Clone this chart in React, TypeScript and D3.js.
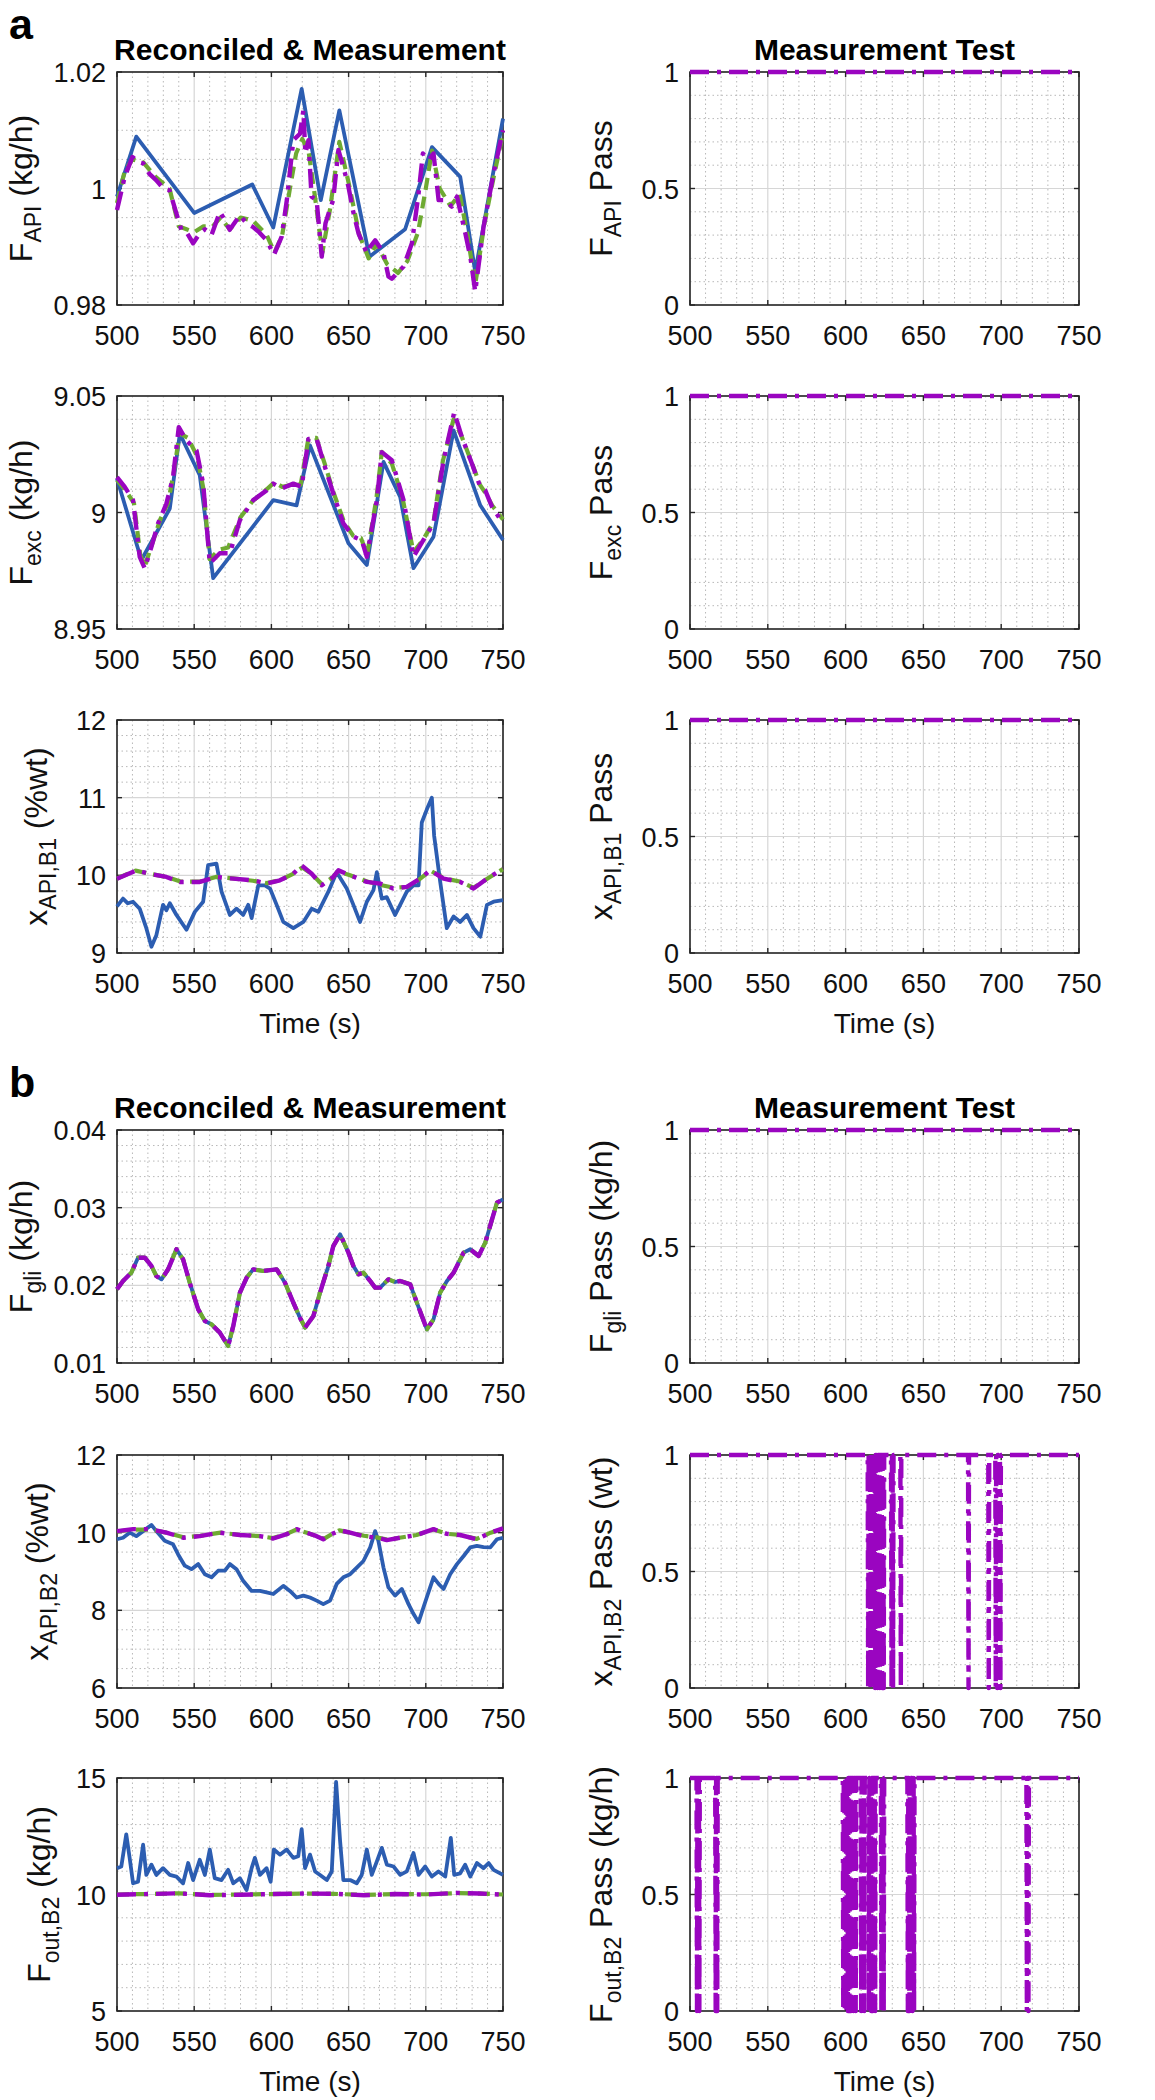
import { useEffect, useRef } from 'react'
import * as d3 from 'd3'

type Pt = [number, number]

const timeTicks = [500, 550, 600, 650, 700, 750]
const passTicks = [0, 0.5, 1]

// ---- panel a, row 1: F_API ----
const a1Meas: Pt[] = [[500, 0.9986], [512.5, 1.0089], [550, 0.9958], [587.6, 1.0007], [601.2, 0.9933], [619.6, 1.0171], [632, 0.998], [644, 1.0134], [663.5, 0.9883], [686.6, 0.993], [704, 1.0071], [722.3, 1.002], [732, 0.9857], [750, 1.012]]
const a1Est: Pt[] = [[500, 0.9975], [505, 1.003], [510, 1.005], [517, 1.0045], [525, 1.002], [534, 1.0], [540, 0.9935], [545, 0.993], [550, 0.9925], [556, 0.9935], [562, 0.9935], [567, 0.995], [573, 0.993], [580, 0.995], [588, 0.9945], [597, 0.992], [602, 0.989], [607, 0.992], [612, 1.0], [616, 1.006], [620, 1.0085], [624, 1.0065], [628, 0.999], [633, 0.989], [638, 0.9965], [644, 1.008], [650, 1.001], [657, 0.992], [663, 0.988], [668, 0.9905], [675, 0.987], [682, 0.9855], [688, 0.9875], [695, 0.9925], [700, 1.0], [704, 1.0065], [709, 1.0], [716, 0.997], [722, 0.999], [727, 0.992], [732, 0.9835], [738, 0.994], [744, 1.002], [750, 1.0095]]
const a1Recon: Pt[] = [[500, 0.9963], [505, 1.002], [510, 1.0054], [514, 1.0045], [517, 1.0043], [521, 1.0025], [525.5, 1.0014], [530, 1.0], [534, 0.9997], [538.5, 0.9957], [541.7, 0.9929], [545, 0.9925], [549.3, 0.9906], [553.6, 0.9923], [557, 0.993], [561.2, 0.992], [566.6, 0.996], [570, 0.9945], [573, 0.9929], [579.6, 0.9954], [584, 0.994], [588, 0.9934], [592, 0.9925], [597, 0.9911], [601.6, 0.9886], [606.6, 0.9917], [610, 0.998], [614.2, 1.0083], [618.5, 1.0094], [620.7, 1.0134], [622, 1.006], [624, 1.0083], [626, 0.9986], [629.3, 0.998], [632.6, 0.9883], [635, 0.994], [637, 0.9957], [640, 0.998], [643.4, 1.0066], [646.6, 1.0037], [649.9, 1.0003], [653, 0.996], [656.4, 0.9923], [661.8, 0.9889], [664, 0.99], [667.2, 0.9911], [670, 0.99], [672.6, 0.9889], [675.8, 0.9849], [678, 0.9845], [681.2, 0.9854], [685.6, 0.9866], [691, 0.9906], [695.3, 0.9991], [698.1, 1.006], [701.8, 1.0049], [705, 1.006], [708.3, 0.998], [712.6, 0.998], [716.9, 0.9969], [720.2, 0.9986], [725.6, 0.9923], [729, 0.988], [732, 0.9823], [737.4, 0.9934], [743.9, 1.0026], [750, 1.01]]

// ---- panel a, row 2: F_exc ----
const a2Meas: Pt[] = [[500, 9.0145], [515.8, 8.9796], [534.2, 9.0017], [540.7, 9.0338], [553.6, 9.016], [562.3, 8.9718], [601.2, 9.0053], [616.3, 9.0031], [625, 9.0288], [649.9, 8.9868], [661.8, 8.9775], [672.6, 9.0217], [683.4, 9.0067], [692, 8.9761], [705, 8.9896], [718, 9.0352], [735.3, 9.0031], [750, 8.9882]]
const a2Est: Pt[] = [[500, 9.014], [506, 9.009], [511, 9.004], [515, 8.982], [518, 8.977], [523, 8.987], [528, 8.997], [533, 9.004], [537, 9.018], [540.5, 9.034], [546, 9.032], [552, 9.024], [556, 9.01], [560, 8.98], [566, 8.984], [572, 8.985], [580, 8.998], [588, 9.005], [597, 9.01], [602, 9.013], [607, 9.011], [614, 9.012], [619, 9.012], [624, 9.032], [629, 9.032], [635, 9.02], [640, 9.009], [647, 8.996], [653, 8.99], [658, 8.989], [662, 8.982], [668, 9.006], [671.5, 9.026], [678, 9.021], [685, 9.006], [692, 8.983], [698, 8.988], [705, 8.996], [711, 9.022], [718, 9.04], [723, 9.033], [730, 9.021], [735, 9.012], [739, 9.008], [743, 9.003], [750, 8.997]]
const a2Recon: Pt[] = [[500, 9.0152], [505, 9.011], [510.4, 9.0053], [514.7, 8.981], [518, 8.976], [522.3, 8.9853], [526.6, 8.9953], [532, 9.0038], [536.3, 9.0152], [540, 9.0366], [545, 9.0309], [551.5, 9.0266], [555.8, 9.0124], [560.1, 8.9782], [566.6, 8.9825], [573.1, 8.9825], [579.6, 8.9967], [588.2, 9.0053], [596.9, 9.0095], [601.2, 9.0124], [606.6, 9.0103], [614.2, 9.0124], [619.6, 9.011], [624, 9.0316], [629.3, 9.0316], [634.7, 9.0195], [640.1, 9.0081], [646.6, 8.9953], [653.1, 8.9896], [658.5, 8.9882], [661.8, 8.981], [668.3, 9.0053], [671.5, 9.0259], [678, 9.0224], [685.6, 9.0053], [692, 8.981], [698.5, 8.9882], [705, 8.9953], [711.5, 9.0224], [718.4, 9.043], [723.4, 9.0323], [729.9, 9.0209], [735.3, 9.011], [738.5, 9.0095], [742.9, 9.0024], [750, 8.9953]]

// ---- panel a, row 3: x_API,B1 ----
const a3Meas: Pt[] = [[500, 9.6], [503.9, 9.7], [507, 9.64], [510.4, 9.66], [514.7, 9.57], [519, 9.32], [522.3, 9.08], [525.5, 9.23], [529.8, 9.62], [532, 9.55], [534.2, 9.64], [538.5, 9.49], [545, 9.3], [550.4, 9.53], [555.8, 9.66], [559, 10.13], [564.4, 10.15], [567.7, 9.79], [573.1, 9.49], [577.4, 9.57], [581.7, 9.49], [585, 9.62], [587.2, 9.45], [591.5, 9.87], [595.8, 9.87], [599.1, 9.83], [603.4, 9.62], [607.7, 9.4], [614.2, 9.32], [620.7, 9.4], [626.1, 9.57], [630.4, 9.53], [636.9, 9.79], [642.3, 10.04], [648.8, 9.83], [653.1, 9.62], [657.4, 9.4], [661.8, 9.66], [666.1, 9.81], [668.3, 10.04], [671.5, 9.7], [674.7, 9.72], [680.1, 9.49], [683.4, 9.62], [687.7, 9.79], [692, 9.87], [695.3, 9.87], [697.4, 10.68], [700.7, 10.85], [703.9, 11.0], [705.4, 10.51], [709.3, 9.92], [713.6, 9.32], [718, 9.47], [722.3, 9.4], [726.6, 9.49], [730.9, 9.32], [735.3, 9.21], [739.6, 9.62], [743.9, 9.66], [750, 9.68]]
const a3Est: Pt[] = [[500, 9.96], [512, 10.06], [521, 10.02], [532, 9.98], [541, 9.92], [554, 9.92], [564, 9.98], [575, 9.96], [588, 9.93], [597, 9.9], [606, 9.94], [614, 10.02], [620, 10.1], [626, 10.02], [633, 9.88], [640, 9.98], [643, 10.05], [651, 10.0], [662, 9.92], [670, 9.88], [679, 9.84], [688, 9.85], [696, 9.95], [703, 10.06], [712, 9.96], [722, 9.92], [731, 9.84], [740, 9.96], [750, 10.08]]
const a3Recon: Pt[] = [[500, 9.957], [512.5, 10.064], [521.2, 10.02], [532, 9.979], [540.7, 9.915], [553.6, 9.915], [564.4, 9.979], [575.3, 9.957], [588.2, 9.936], [596.9, 9.894], [605.5, 9.936], [614.2, 10.02], [619.6, 10.128], [626.1, 10.02], [632.6, 9.872], [640.1, 9.979], [643.4, 10.064], [651, 10.0], [661.8, 9.915], [670.4, 9.894], [679, 9.83], [687.7, 9.851], [696.3, 9.957], [702.8, 10.064], [711.5, 9.957], [722.3, 9.915], [730.9, 9.83], [739.6, 9.957], [750, 10.085]]

// ---- panel b, row 1: F_gli (all three series overlap) ----
const b1Meas: Pt[] = [[500, 0.0195], [503.9, 0.02056], [509.3, 0.02163], [513.6, 0.02356], [518, 0.02356], [522.3, 0.02249], [525.5, 0.0212], [528.8, 0.02077], [533.1, 0.02206], [538.5, 0.02464], [542.8, 0.02335], [547.1, 0.02034], [552.6, 0.01691], [556.9, 0.01541], [561.2, 0.01498], [566.6, 0.01391], [572, 0.01219], [575.3, 0.01476], [579.6, 0.01906], [584, 0.02099], [588.2, 0.02206], [594.7, 0.02185], [603.4, 0.02206], [608.8, 0.02034], [614.2, 0.01777], [618.5, 0.01584], [621.8, 0.01455], [627.2, 0.01605], [631.5, 0.01906], [636.9, 0.02249], [640.1, 0.02506], [644.5, 0.02657], [649.9, 0.02421], [653.1, 0.02249], [656.4, 0.02142], [659.6, 0.02163], [664, 0.02056], [667.2, 0.0197], [670.4, 0.0197], [675.8, 0.02077], [680.1, 0.02043], [683.4, 0.02056], [689.9, 0.02013], [694.2, 0.01777], [700.7, 0.01433], [705, 0.01562], [709.3, 0.01906], [713.7, 0.02056], [718, 0.02163], [724.5, 0.02421], [728.8, 0.02464], [734.2, 0.02378], [738.5, 0.02549], [742.9, 0.0285], [746.1, 0.03064], [750, 0.03107]]

// ---- panel b, row 2: x_API,B2 ----
const b2Meas: Pt[] = [[500, 9.83], [503.9, 9.87], [508.2, 10.0], [512.5, 9.91], [516.9, 10.04], [522.3, 10.2], [525.5, 10.04], [530.9, 9.79], [536.3, 9.7], [539.6, 9.44], [543.9, 9.15], [548.2, 9.06], [552.6, 9.19], [556.9, 8.93], [561.2, 8.85], [565.5, 9.02], [569.9, 9.02], [573.1, 9.19], [577.4, 9.06], [581.7, 8.76], [587.2, 8.5], [592.6, 8.5], [596.9, 8.46], [601.2, 8.42], [607.7, 8.63], [612, 8.5], [616.3, 8.33], [620.7, 8.38], [625, 8.33], [629.3, 8.25], [633.6, 8.16], [638, 8.25], [642.3, 8.68], [646.6, 8.85], [651, 8.93], [655.3, 9.1], [659.6, 9.27], [664, 9.62], [667.2, 10.04], [669.3, 9.79], [672.6, 9.1], [675.8, 8.59], [680.1, 8.38], [684.5, 8.55], [688.8, 8.16], [692, 7.91], [695.3, 7.69], [698.5, 8.08], [702.8, 8.59], [705, 8.85], [708.3, 8.68], [711.5, 8.55], [715.8, 8.93], [720.2, 9.19], [724.5, 9.4], [728.8, 9.62], [733.1, 9.66], [737.4, 9.63], [741.8, 9.62], [746.1, 9.83], [750, 9.87]]
const b2Est: Pt[] = [[500, 10.03], [510, 10.08], [521, 10.08], [532, 10.0], [543, 9.88], [554, 9.92], [567, 10.0], [580, 9.94], [593, 9.91], [601, 9.86], [610, 9.97], [616, 10.08], [623, 10.0], [629, 9.91], [634, 9.84], [639, 9.96], [644, 10.06], [651, 10.0], [660, 9.92], [668, 9.88], [675, 9.82], [683, 9.87], [694, 9.94], [705, 10.08], [714, 9.97], [722, 9.94], [733, 9.84], [742, 10.0], [750, 10.1]]
const b2Recon: Pt[] = [[500, 10.04], [510.4, 10.09], [521.2, 10.09], [532, 10.0], [542.8, 9.87], [553.6, 9.91], [566.6, 10.0], [579.6, 9.94], [592.6, 9.91], [601.2, 9.85], [609.9, 9.96], [616.3, 10.09], [622.8, 10.0], [629.3, 9.91], [633.6, 9.83], [639, 9.96], [644.5, 10.06], [651, 10.0], [659.6, 9.91], [668.3, 9.87], [674.7, 9.81], [683.4, 9.87], [694.2, 9.94], [705, 10.09], [713.6, 9.97], [722.3, 9.94], [733.1, 9.83], [741.8, 10.0], [750, 10.11]]

// ---- panel b, row 3: F_out,B2 ----
const b3Meas: Pt[] = [[500, 11.13], [502.8, 11.2], [506, 12.58], [508.2, 11.57], [510.4, 10.48], [513.6, 10.55], [516.9, 12.14], [519, 10.84], [522.3, 11.28], [525.5, 10.84], [529.8, 11.13], [534.2, 10.84], [538.5, 10.77], [542.8, 10.48], [546.1, 11.35], [549.3, 10.62], [553.6, 11.49], [556.9, 10.84], [560.1, 11.93], [563.3, 10.7], [567.7, 10.62], [572, 11.06], [575.3, 10.48], [579.6, 10.7], [583.9, 10.19], [587.2, 11.13], [589.3, 11.57], [592.6, 10.84], [596.9, 11.13], [599.5, 10.55], [601.6, 11.93], [605.5, 11.71], [609.9, 11.93], [614.2, 11.57], [617.4, 11.64], [619.6, 12.8], [621.8, 11.13], [625, 11.71], [628.3, 10.99], [631.5, 10.84], [635.9, 10.62], [639.1, 10.99], [641.9, 14.83], [644.5, 12.29], [646.6, 10.62], [651, 10.62], [655.3, 10.48], [658.5, 10.84], [661.8, 11.93], [665, 10.84], [668.3, 11.42], [671.5, 12.0], [674.8, 11.28], [679.1, 11.2], [683.4, 10.84], [687.7, 10.99], [692, 11.78], [695.3, 10.84], [699.6, 11.2], [703.9, 10.77], [708.2, 10.99], [712.6, 10.77], [716.2, 12.43], [718.4, 10.84], [722.3, 10.91], [725.5, 11.28], [728.8, 10.77], [733.1, 11.35], [737.4, 11.13], [740.7, 11.35], [743.9, 11.06], [750, 10.84]]
const b3Est: Pt[] = [[500, 10.0], [520, 10.02], [540, 10.05], [560, 9.98], [580, 10.0], [600, 10.02], [620, 10.04], [640, 10.03], [660, 9.98], [680, 10.02], [700, 10.01], [720, 10.06], [735, 10.04], [750, 10.0]]
const b3Recon: Pt[] = [[500, 9.99], [520, 10.02], [540, 10.05], [560, 9.97], [580, 9.99], [600, 10.02], [620, 10.04], [640, 10.03], [660, 9.97], [680, 10.02], [700, 10.0], [720, 10.07], [735, 10.04], [750, 9.99]]

// ---- measurement test: times where the test failed (value 0), else 1 ----
const b2FailTimes = [614.5, 616, 618, 619, 620.5, 622, 623.5, 624.5, 629.5, 630.5, 635.5, 679, 692, 696.5, 697.5, 699.5]
const b3FailTimes = [504.5, 506, 516.5, 517.5, 598.5, 599.5, 600.5, 601.5, 602.5, 603.5, 605, 606.5, 610, 612, 615, 616.5, 617.5, 619, 623, 624.5, 640, 641, 643, 644, 716.5, 717.5]

const passSeries = (fails: number[]): Pt[] => {
  const pts: Pt[] = [[500, 1]]
  fails.forEach(t => { pts.push([t - 0.3, 1], [t, 0], [t + 0.3, 1]) })
  pts.push([750, 1])
  return pts
}

const FONT = '"Liberation Sans", Arial, Helvetica, sans-serif'
const STYLES = {
  meas: { color: '#2c5db1', width: 3.8, dash: null },
  est: { color: '#6eaa32', width: 4.2, dash: '12,7' },
  recon: { color: '#9a05c0', width: 4.4, dash: '19,8,4,8' },
}

type Kind = keyof typeof STYLES
interface Panel {
  x0: number; x1: number; top: number
  domain: [number, number]; ticks: number[]; minor: number
  series: [Pt[], Kind][]
  label: [string, string, string]; labelX: number
  timeLabel?: boolean
}

export default function App() {
  const svgRef = useRef<SVGSVGElement>(null)
  const width = 1155
  const height = 2100

  useEffect(() => {
    if (!svgRef.current) return
    const svg = d3.select(svgRef.current)
    svg.selectAll('*').remove()
    svg.append('rect').attr('width', width).attr('height', height).attr('fill', '#fff')

    const plotH = 233
    const L = [117, 503]
    const R = [690, 1079]
    const rows = [72, 396, 720, 1130, 1455, 1778]
    const always = passSeries([])

    const panels: Panel[] = [
      { x0: L[0], x1: L[1], top: rows[0], domain: [0.98, 1.02], ticks: [0.98, 1, 1.02], minor: 0.005, series: [[a1Meas, 'meas'], [a1Est, 'est'], [a1Recon, 'recon']], label: ['F', 'API', ' (kg/h)'], labelX: 32 },
      { x0: R[0], x1: R[1], top: rows[0], domain: [0, 1], ticks: passTicks, minor: 0.1, series: [[always, 'recon']], label: ['F', 'API', ' Pass'], labelX: 612 },
      { x0: L[0], x1: L[1], top: rows[1], domain: [8.95, 9.05], ticks: [8.95, 9, 9.05], minor: 0.01, series: [[a2Meas, 'meas'], [a2Est, 'est'], [a2Recon, 'recon']], label: ['F', 'exc', ' (kg/h)'], labelX: 32 },
      { x0: R[0], x1: R[1], top: rows[1], domain: [0, 1], ticks: passTicks, minor: 0.1, series: [[always, 'recon']], label: ['F', 'exc', ' Pass'], labelX: 612 },
      { x0: L[0], x1: L[1], top: rows[2], domain: [9, 12], ticks: [9, 10, 11, 12], minor: 0.2, series: [[a3Meas, 'meas'], [a3Est, 'est'], [a3Recon, 'recon']], label: ['x', 'API,B1', ' (%wt)'], labelX: 47, timeLabel: true },
      { x0: R[0], x1: R[1], top: rows[2], domain: [0, 1], ticks: passTicks, minor: 0.1, series: [[always, 'recon']], label: ['x', 'API,B1', ' Pass'], labelX: 612, timeLabel: true },
      { x0: L[0], x1: L[1], top: rows[3], domain: [0.01, 0.04], ticks: [0.01, 0.02, 0.03, 0.04], minor: 0.002, series: [[b1Meas, 'meas'], [b1Meas, 'est'], [b1Meas, 'recon']], label: ['F', 'gli', ' (kg/h)'], labelX: 32 },
      { x0: R[0], x1: R[1], top: rows[3], domain: [0, 1], ticks: passTicks, minor: 0.1, series: [[always, 'recon']], label: ['F', 'gli', ' Pass (kg/h)'], labelX: 612 },
      { x0: L[0], x1: L[1], top: rows[4], domain: [6, 12], ticks: [6, 8, 10, 12], minor: 0.5, series: [[b2Meas, 'meas'], [b2Est, 'est'], [b2Recon, 'recon']], label: ['x', 'API,B2', ' (%wt)'], labelX: 48 },
      { x0: R[0], x1: R[1], top: rows[4], domain: [0, 1], ticks: passTicks, minor: 0.1, series: [[passSeries(b2FailTimes), 'recon']], label: ['x', 'API,B2', ' Pass (wt)'], labelX: 612 },
      { x0: L[0], x1: L[1], top: rows[5], domain: [5, 15], ticks: [5, 10, 15], minor: 1, series: [[b3Meas, 'meas'], [b3Est, 'est'], [b3Recon, 'recon']], label: ['F', 'out,B2', ' (kg/h)'], labelX: 50, timeLabel: true },
      { x0: R[0], x1: R[1], top: rows[5], domain: [0, 1], ticks: passTicks, minor: 0.1, series: [[passSeries(b3FailTimes), 'recon']], label: ['F', 'out,B2', ' Pass (kg/h)'], labelX: 612, timeLabel: true },
    ]

    panels.forEach(p => {
      const x = d3.scaleLinear().domain([500, 750]).range([p.x0, p.x1])
      const y = d3.scaleLinear().domain(p.domain).range([p.top + plotH, p.top])
      const g = svg.append('g')
      const bottom = p.top + plotH

      // minor grid (dotted)
      const xMinor = d3.range(500, 750.001, 10).filter(v => !timeTicks.includes(Math.round(v)))
      const span = p.domain[1] - p.domain[0]
      const yMinor = d3.range(p.domain[0], p.domain[1] + span * 1e-6, p.minor)
        .filter(v => !p.ticks.some(t => Math.abs(t - v) < span * 1e-4))
      xMinor.forEach(v => {
        g.append('line').attr('x1', x(v)).attr('x2', x(v)).attr('y1', p.top).attr('y2', bottom)
          .attr('stroke', '#b8b8b8').attr('stroke-width', 1).attr('stroke-dasharray', '1.5,3')
      })
      yMinor.forEach(v => {
        g.append('line').attr('x1', p.x0).attr('x2', p.x1).attr('y1', y(v)).attr('y2', y(v))
          .attr('stroke', '#b8b8b8').attr('stroke-width', 1).attr('stroke-dasharray', '1.5,3')
      })
      // major grid
      timeTicks.forEach(v => {
        g.append('line').attr('x1', x(v)).attr('x2', x(v)).attr('y1', p.top).attr('y2', bottom)
          .attr('stroke', '#d6d6d6').attr('stroke-width', 1.2)
      })
      p.ticks.forEach(v => {
        g.append('line').attr('x1', p.x0).attr('x2', p.x1).attr('y1', y(v)).attr('y2', y(v))
          .attr('stroke', '#d6d6d6').attr('stroke-width', 1.2)
      })

      // box + inward ticks
      g.append('rect').attr('x', p.x0).attr('y', p.top).attr('width', p.x1 - p.x0).attr('height', plotH)
        .attr('fill', 'none').attr('stroke', '#262626').attr('stroke-width', 1.6)
      timeTicks.forEach(v => {
        g.append('line').attr('x1', x(v)).attr('x2', x(v)).attr('y1', bottom).attr('y2', bottom - 5).attr('stroke', '#262626').attr('stroke-width', 1.4)
        g.append('line').attr('x1', x(v)).attr('x2', x(v)).attr('y1', p.top).attr('y2', p.top + 5).attr('stroke', '#262626').attr('stroke-width', 1.4)
        g.append('text').attr('x', x(v)).attr('y', bottom + 40).attr('text-anchor', 'middle')
          .attr('font-family', FONT).attr('font-size', 27).attr('fill', '#111').text(String(v))
      })
      p.ticks.forEach(v => {
        g.append('line').attr('x1', p.x0).attr('x2', p.x0 + 5).attr('y1', y(v)).attr('y2', y(v)).attr('stroke', '#262626').attr('stroke-width', 1.4)
        g.append('line').attr('x1', p.x1).attr('x2', p.x1 - 5).attr('y1', y(v)).attr('y2', y(v)).attr('stroke', '#262626').attr('stroke-width', 1.4)
        g.append('text').attr('x', p.x0 - 11).attr('y', y(v) + 10).attr('text-anchor', 'end')
          .attr('font-family', FONT).attr('font-size', 27).attr('fill', '#111').text(String(v))
      })

      // series
      const line = d3.line<Pt>().x(d => x(d[0])).y(d => y(d[1]))
      p.series.forEach(([data, kind]) => {
        const s = STYLES[kind]
        g.append('path').attr('d', line(data) || '').attr('fill', 'none')
          .attr('stroke', s.color).attr('stroke-width', s.width)
          .attr('stroke-linejoin', 'round')
          .attr('stroke-dasharray', s.dash)
      })

      // y label with subscript
      const cy = p.top + plotH / 2
      const t = g.append('text').attr('transform', `translate(${p.labelX},${cy}) rotate(-90)`)
        .attr('text-anchor', 'middle').attr('font-family', FONT).attr('font-size', 32).attr('fill', '#111')
      t.append('tspan').text(p.label[0])
      t.append('tspan').attr('font-size', 23).attr('dy', 9).text(p.label[1])
      t.append('tspan').attr('dy', -9).text(p.label[2])

      if (p.timeLabel) {
        g.append('text').attr('x', (p.x0 + p.x1) / 2).attr('y', bottom + 80).attr('text-anchor', 'middle')
          .attr('font-family', FONT).attr('font-size', 28).attr('fill', '#111').text('Time (s)')
      }
    })

    // titles and panel letters
    ;[[rows[0], 'a'], [rows[3], 'b']].forEach(([top, letter]) => {
      const tp = top as number
      svg.append('text').attr('x', 9).attr('y', tp - 33).attr('font-family', FONT).attr('font-weight', 'bold')
        .attr('font-size', 43).attr('fill', '#000').text(letter as string)
      svg.append('text').attr('x', (L[0] + L[1]) / 2).attr('y', tp - 12).attr('text-anchor', 'middle')
        .attr('font-family', FONT).attr('font-weight', 'bold').attr('font-size', 30).attr('fill', '#000')
        .text('Reconciled & Measurement')
      svg.append('text').attr('x', (R[0] + R[1]) / 2).attr('y', tp - 12).attr('text-anchor', 'middle')
        .attr('font-family', FONT).attr('font-weight', 'bold').attr('font-size', 30).attr('fill', '#000')
        .text('Measurement Test')
    })
  }, [])

  return (
    <svg ref={svgRef} width={width} height={height} style={{ position: 'absolute', left: 0, top: 0, background: '#fff' }} />
  )
}
